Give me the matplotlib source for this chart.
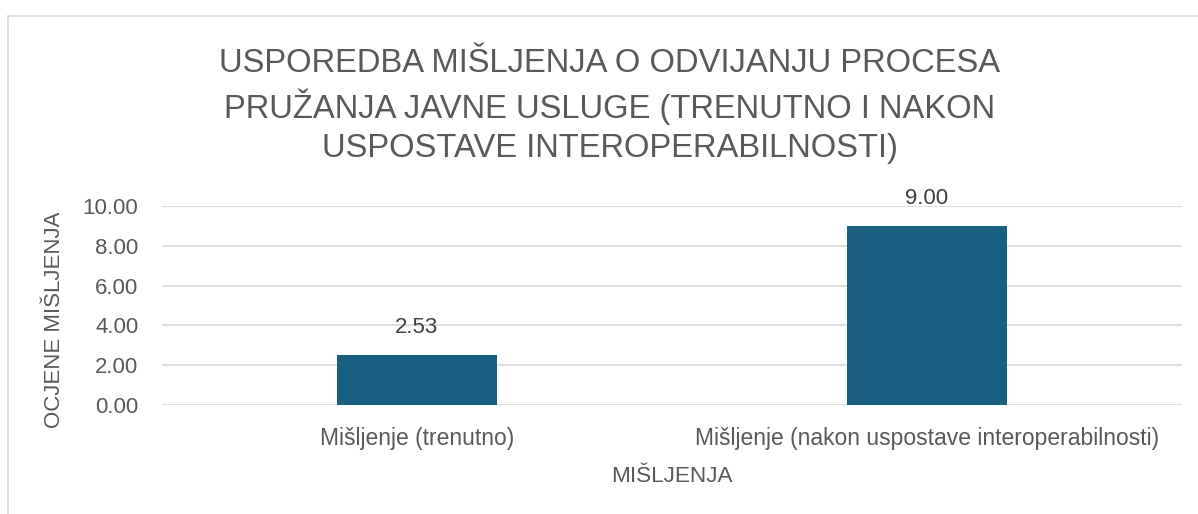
import matplotlib
matplotlib.use("Agg")
import matplotlib.pyplot as plt
from matplotlib.lines import Line2D

categories = ["Mišljenje (trenutno)", "Mišljenje (nakon uspostave interoperabilnosti)"]
values = [2.53, 9.00]
yticks = [0, 2, 4, 6, 8, 10]
title = "USPOREDBA MIŠLJENJA O ODVIJANJU PROCESA\nPRUŽANJA JAVNE USLUGE (TRENUTNO I NAKON\nUSPOSTAVE INTEROPERABILNOSTI)"
xlabel = "MIŠLJENJA"
ylabel = "OCJENE MIŠLJENJA"

W, H = 1198, 514
fig = plt.figure(figsize=(W / 100, H / 100), dpi=100)
fig.patch.set_facecolor("white")

plt.rcParams['font.family'] = ['Liberation Sans', 'DejaVu Sans']
gray = "#595959"
barc = "#185f80"

# chart border (top and left visible)
fig.add_artist(Line2D([8 / W, 8 / W], [0, 1 - 16 / H], transform=fig.transFigure, color="#d9d9d9", lw=1.2))
fig.add_artist(Line2D([8 / W, 1], [1 - 16 / H, 1 - 16 / H], transform=fig.transFigure, color="#d9d9d9", lw=1.2))

ax = fig.add_axes([162 / W, 1 - 405 / H, (1182 - 162) / W, (405 - 206) / H])
x = list(range(len(categories)))
ax.bar(x, values, width=0.314, color=barc, zorder=3)
ax.set_xlim(-0.5, len(categories) - 0.5)
ax.set_ylim(0, 10)
ax.set_yticks(yticks)
ax.set_yticklabels([f"{v:.2f}" for v in yticks])
ax.set_xticks(x)
ax.set_xticklabels(categories)
ax.grid(axis="y", color="#d9d9d9", lw=1.2, zorder=0)
for s in ax.spines.values():
    s.set_visible(False)
ax.tick_params(axis="both", length=0, colors=gray)
ax.tick_params(axis="y", pad=17, labelsize=16)
ax.tick_params(axis="x", pad=16, labelsize=16.5)

for xi, v in zip(x, values):
    ax.annotate(f"{v:.2f}", (xi, v), xytext=(0, 19.5), textcoords="offset points",
                ha="center", va="center", fontsize=16, color="#404040")

fig.text(672 / W, 1 - 477 / H, xlabel, ha="center", va="center", fontsize=16.2, color=gray)
fig.text(55 / W, 1 - 320 / H, ylabel, rotation=90, ha="center", va="center", fontsize=16, color=gray)

fig.text(610 / W, 1 - 106 / H, title, ha="center", va="center", fontsize=23.6, color=gray,
         linespacing=1.31)

fig.savefig("out.png", dpi=100, facecolor="white")
